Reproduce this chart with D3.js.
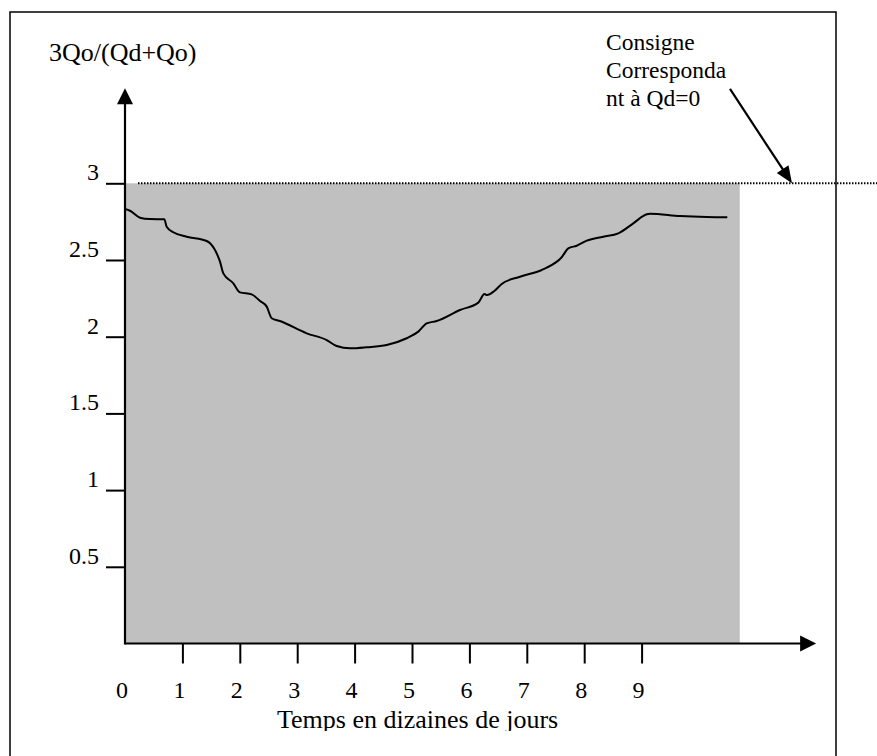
<!DOCTYPE html>
<html>
<head>
<meta charset="utf-8">
<script src="https://cdn.jsdelivr.net/npm/d3@7"></script>
<style>
  html, body { margin: 0; padding: 0; background: #fff; }
  svg { display: block; }
  svg text { font-family: "Liberation Serif", "Times New Roman", serif; }
</style>
</head>
<body>
<svg id="chart" width="877" height="756"></svg>
<script>
// ---- data ----
const timeTens = [0, 0.087, 0.261, 0.436, 0.685, 0.726, 0.841, 1.075, 1.423, 1.568, 1.655, 1.713, 1.887, 2.003, 2.207, 2.352, 2.469, 2.556, 2.700, 3.166, 3.514, 3.688, 3.920, 4.211, 4.559, 4.908, 5.110, 5.256, 5.430, 5.836, 6.155, 6.263, 6.307, 6.429, 6.563, 6.882, 7.260, 7.347, 7.608, 7.723, 7.869, 8.044, 8.333, 8.594, 8.855, 9.089, 9.146, 9.669, 10.134, 10.493];
const ratioValues = [2.832, 2.821, 2.776, 2.767, 2.765, 2.717, 2.681, 2.652, 2.624, 2.565, 2.489, 2.413, 2.348, 2.289, 2.276, 2.233, 2.196, 2.120, 2.102, 2.022, 1.978, 1.939, 1.924, 1.931, 1.946, 1.990, 2.033, 2.087, 2.102, 2.174, 2.222, 2.278, 2.272, 2.296, 2.344, 2.391, 2.435, 2.450, 2.518, 2.576, 2.593, 2.626, 2.652, 2.674, 2.739, 2.798, 2.802, 2.787, 2.780, 2.778];
const xTickValues = [1, 2, 3, 4, 5, 6, 7, 8, 9];
const xTickLabels = ["0", "1", "2", "3", "4", "5", "6", "7", "8", "9"];
const yTickValues = [0.5, 1, 1.5, 2, 2.5, 3];
const yTickLabels = ["0.5", "1", "1.5", "2", "2.5", "3"];
const setpointValue = 3;
const yTitle = "3Qo/(Qd+Qo)";
const xTitle = "Temps en dizaines de jours";
const noteLines = ["Consigne", "Corresponda", "nt à Qd=0"];

// ---- layout ----
const FONT = "Liberation Serif, Times New Roman, serif";
const svg = d3.select("#chart");
const x = d3.scaleLinear().domain([0, 10]).range([125, 699]);
const y = d3.scaleLinear().domain([0, 3]).range([643.5, 183.3]);
const xAxisEnd = 12.04, shadeEnd = 10.71, yAxisEnd = 3.62;

// frame
svg.append("path")
  .attr("d", "M10,756 L10,12 L836,12 L836,756")
  .attr("fill", "none").attr("stroke", "#000").attr("stroke-width", 1.5);

// gray area
svg.append("rect")
  .attr("x", x(0)).attr("y", y(3))
  .attr("width", x(shadeEnd) - x(0))
  .attr("height", y(0) - y(3))
  .attr("fill", "#c0c0c0");

// dotted setpoint line
svg.append("line")
  .attr("x1", x(0.226)).attr("x2", 877)
  .attr("y1", y(setpointValue)).attr("y2", y(setpointValue))
  .attr("stroke", "#000").attr("stroke-width", 2)
  .attr("stroke-dasharray", "1.5,1.5");

// curve
const pts = timeTens.map((t, i) => [t, ratioValues[i]]);
svg.append("path")
  .datum(pts)
  .attr("fill", "none").attr("stroke", "#000").attr("stroke-width", 2)
  .attr("d", d3.line().x(d => x(d[0])).y(d => y(d[1])).curve(d3.curveMonotoneX));

// y axis
const yAxis = d3.axisLeft(y).tickValues(yTickValues).tickSize(19)
  .tickFormat((d, i) => yTickLabels[i]);
const gy = svg.append("g").attr("transform", `translate(${x(0)},0)`).call(yAxis)
  .attr("font-family", FONT).attr("font-size", 24);
gy.select(".domain").remove();
gy.selectAll(".tick line").attr("stroke-width", 2);
gy.selectAll(".tick text")
  .attr("x", -26).attr("dy", "-0.15em")
  .attr("font-size", 24).attr("font-family", FONT).attr("fill", "#000");

// x axis
const xAxis = d3.axisBottom(x).tickValues(xTickValues).tickSize(20).tickFormat("");
const gx = svg.append("g").attr("transform", `translate(0,${y(0)})`).call(xAxis);
gx.select(".domain").remove();
gx.selectAll(".tick line").attr("stroke-width", 2);
svg.append("g").selectAll("text")
  .data(xTickLabels).join("text")
  .attr("x", (d, i) => x(i) - 3).attr("y", y(0) + 54)
  .attr("text-anchor", "middle")
  .attr("font-family", FONT).attr("font-size", 24).attr("fill", "#000")
  .text(d => d);

// axis lines with arrows
svg.append("line")
  .attr("x1", x(0)).attr("y1", y(0)).attr("x2", x(xAxisEnd) - 14).attr("y2", y(0))
  .attr("stroke", "#000").attr("stroke-width", 2.2);
svg.append("path")
  .attr("d", `M${x(xAxisEnd)},${y(0)} L${x(xAxisEnd) - 16},${y(0) - 8} L${x(xAxisEnd) - 16},${y(0) + 8} Z`)
  .attr("fill", "#000");
svg.append("line")
  .attr("x1", x(0)).attr("y1", y(0) + 1).attr("x2", x(0)).attr("y2", y(yAxisEnd) + 14)
  .attr("stroke", "#000").attr("stroke-width", 2.2);
svg.append("path")
  .attr("d", `M${x(0)},${y(yAxisEnd)} L${x(0) - 8},${y(yAxisEnd) + 16} L${x(0) + 8},${y(yAxisEnd) + 16} Z`)
  .attr("fill", "#000");

// titles
svg.append("text").attr("x", 49).attr("y", 61)
  .attr("font-family", FONT).attr("font-size", 26).attr("fill", "#000").text(yTitle);

svg.append("clipPath").attr("id", "clipx")
  .append("rect").attr("x", 0).attr("y", 0).attr("width", 877).attr("height", 731);
svg.append("text").attr("x", 277).attr("y", 728)
  .attr("clip-path", "url(#clipx)")
  .attr("font-family", FONT).attr("font-size", 26).attr("fill", "#000").text(xTitle);

// annotation
svg.append("g").selectAll("text").data(noteLines).join("text")
  .attr("x", 606).attr("y", (d, i) => 50 + i * 28)
  .attr("font-family", FONT).attr("font-size", 23.5).attr("fill", "#000").text(d => d);

const ax0 = x(10.54), ay0 = y(3.615), ax1 = x(11.62), ay1 = y(setpointValue);
const ang = Math.atan2(ay1 - ay0, ax1 - ax0);
const hl = 17, hw = 7;
svg.append("line")
  .attr("x1", ax0).attr("y1", ay0)
  .attr("x2", ax1 - Math.cos(ang) * hl * 0.8).attr("y2", ay1 - Math.sin(ang) * hl * 0.8)
  .attr("stroke", "#000").attr("stroke-width", 2.2);
const bx = ax1 - Math.cos(ang) * hl, by = ay1 - Math.sin(ang) * hl;
svg.append("path")
  .attr("d", `M${ax1},${ay1} L${bx - Math.sin(ang) * hw},${by + Math.cos(ang) * hw} L${bx + Math.sin(ang) * hw},${by - Math.cos(ang) * hw} Z`)
  .attr("fill", "#000");
</script>
</body>
</html>
